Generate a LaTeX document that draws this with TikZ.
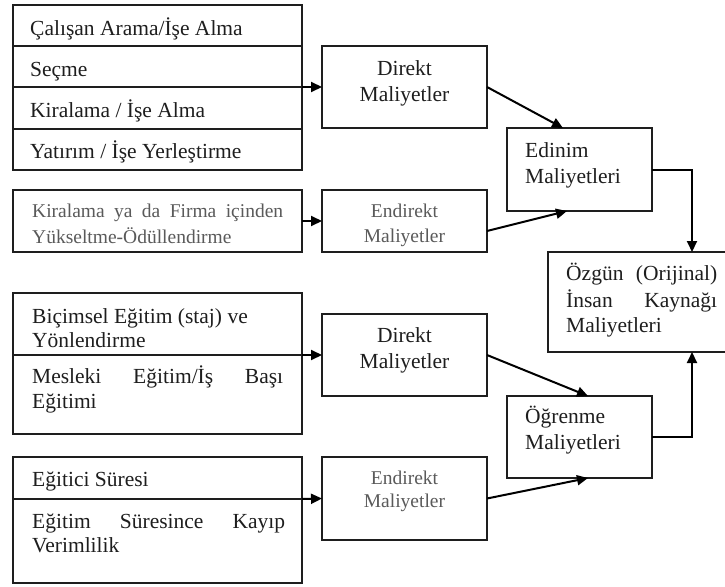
\documentclass[tikz,border=0pt]{standalone}
\usepackage{fontspec}
\setmainfont{Liberation Serif}
\usetikzlibrary{arrows.meta}
\definecolor{ink}{HTML}{1E1E1E}
\definecolor{soft}{HTML}{5A5A5A}
\newcommand{\mfs}{\fontsize{21.5}{25}\selectfont}
\newcommand{\gfs}{\fontsize{19.5}{23}\selectfont}
\begin{document}
\begin{tikzpicture}[x=1pt,y=-1pt,
 box/.style={draw=ink, line width=1.3pt, inner sep=0pt, outer sep=0pt, anchor=north west},
 lbl/.style={inner sep=0pt, anchor=base west, text=ink, font=\mfs},
 clbl/.style={inner sep=0pt, anchor=base, text=ink, font=\mfs},
 glbl/.style={inner sep=0pt, anchor=base west, text=soft, font=\gfs},
 gclbl/.style={inner sep=0pt, anchor=base, text=soft, font=\gfs},
 conn/.style={draw=black, line width=2pt, -{Triangle[length=11pt,width=10pt]}}
]
\useasboundingbox (0,0) rectangle (725,586);
\clip (0,0) rectangle (725,586);
\fill[white] (0,0) rectangle (725,586);

% left column boxes
\node[box, minimum width=289, minimum height=41] (r1) at (13,5) {};
\node[box, minimum width=289, minimum height=41] (r2) at (13,46) {};
\node[box, minimum width=289, minimum height=42] (r3) at (13,87) {};
\node[box, minimum width=289, minimum height=41] (r4) at (13,129) {};
\node[box, minimum width=289, minimum height=62] (k) at (13,190) {};
\node[box, minimum width=289, minimum height=62] (b1) at (13,293) {};
\node[box, minimum width=289, minimum height=79] (b2) at (13,355) {};
\node[box, minimum width=289, minimum height=42] (e1) at (13,457) {};
\node[box, minimum width=289, minimum height=84] (e2) at (13,499) {};

% middle and right boxes
\node[box, minimum width=165, minimum height=82] (d1) at (322,46) {};
\node[box, minimum width=165, minimum height=62] (n1) at (322,190) {};
\node[box, minimum width=145, minimum height=83] (ed) at (507,128) {};
\node[box, minimum width=190, minimum height=100] (oz) at (548,252) {};
\node[box, minimum width=165, minimum height=82] (d2) at (322,314) {};
\node[box, minimum width=145, minimum height=82] (og) at (507,396) {};
\node[box, minimum width=165, minimum height=83] (n2) at (322,457) {};

% connectors
\draw[conn] (r2.south east) -- (d1.west);
\draw[conn] (k.east) -- (n1.west);
\draw[conn] (d1.east) -- ([xshift=56pt]ed.north west);
\draw[conn] ([yshift=-10pt]n1.east) -- ([xshift=60pt]ed.south west);
\draw[conn] (ed.east) -| ([xshift=144pt]oz.north west);
\draw[conn] (b1.south east) -- (d2.west);
\draw[conn] (d2.east) -- ([xshift=81pt]og.north west);
\draw[conn] (e1.south east) -- (n2.west);
\draw[conn] (n2.east) -- ([xshift=81pt]og.south west);
\draw[conn] (og.east) -| ([xshift=144pt]oz.south west);

% texts
\node[lbl] (t1) at (30,36) {Çalışan Arama/İşe Alma};
\node[lbl] (t2) at (30,76) {Seçme};
\node[lbl] (t3) at (30,117) {Kiralama / İşe Alma};
\node[lbl] (t4) at (30,158) {Yatırım / İşe Yerleştirme};
\node[glbl] (t5) at (32,217) {\makebox[251pt][s]{Kiralama ya da Firma içinden}};
\node[glbl] (t6) at (32,243) {Yükseltme-Ödüllendirme};
\node[lbl] (t7) at (32,323) {Biçimsel Eğitim (staj) ve};
\node[lbl] (t8) at (32,347) {Yönlendirme};
\node[lbl] (t9) at (32,383) {\makebox[251pt][s]{Mesleki Eğitim/İş Başı}};
\node[lbl] (t10) at (32,408) {Eğitimi};
\node[lbl] (t11) at (32,486) {Eğitici Süresi};
\node[lbl] (t12) at (32,528) {\makebox[253pt][s]{Eğitim Süresince Kayıp}};
\node[lbl] (t13) at (32,552) {Verimlilik};

\node[clbl] (u1) at (404.5,75) {Direkt};
\node[clbl] (u2) at (404.5,101) {Maliyetler};
\node[gclbl] (u3) at (404.5,217) {Endirekt};
\node[gclbl] (u4) at (404.5,242) {Maliyetler};
\node[lbl] (u5) at (525,157) {Edinim};
\node[lbl] (u6) at (525,183) {Maliyetleri};
\node[lbl] (u7) at (566,280) {\makebox[151pt][s]{Özgün (Orijinal)}};
\node[lbl] (u8) at (566,307) {\makebox[151pt][s]{İnsan Kaynağı}};
\node[lbl] (u9) at (566,332) {Maliyetleri};
\node[clbl] (u10) at (404.5,342) {Direkt};
\node[clbl] (u11) at (404.5,368) {Maliyetler};
\node[lbl] (u12) at (525,423) {Öğrenme};
\node[lbl] (u13) at (525,449) {Maliyetleri};
\node[gclbl] (u14) at (404.5,484) {Endirekt};
\node[gclbl] (u15) at (404.5,507) {Maliyetler};
\end{tikzpicture}
\end{document}
